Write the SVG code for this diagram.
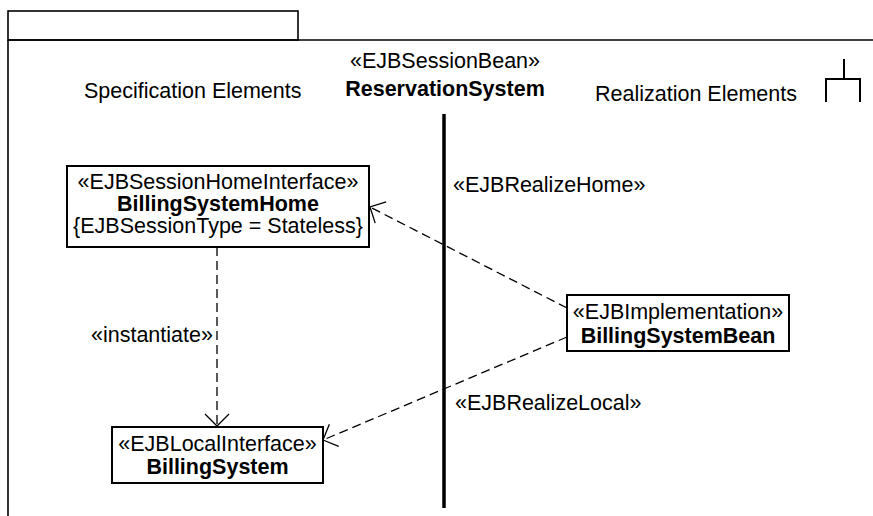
<svg xmlns="http://www.w3.org/2000/svg" width="873" height="516" viewBox="0 0 873 516">
  <defs>
    <style>
      .txt { font-family: "Liberation Sans", Arial, sans-serif; font-size: 21.5px; fill: #000; }
      .b { font-weight: bold; }
      .mid { text-anchor: middle; }
      .box { fill: #fff; stroke: #000; stroke-width: 2; }
      .frame { fill: none; stroke: #000; stroke-width: 1.6; }
      .dep { fill: none; stroke: #000; stroke-width: 1.3; stroke-dasharray: 9 5; }
      .head { fill: none; stroke: #000; stroke-width: 1.3; }
    </style>
    <marker id="open" viewBox="0 0 20 30" refX="18" refY="15" markerWidth="20" markerHeight="30" markerUnits="userSpaceOnUse" orient="auto">
      <path class="head" d="M 6 3 L 18 15 L 6 27"/>
    </marker>
  </defs>

  <rect width="873" height="516" fill="#fff"/>

  <!-- package frame with tab -->
  <g id="frame">
    <rect class="frame" x="8" y="11" width="290" height="29"/>
    <path class="frame" d="M 8 40 H 873 M 8 40 V 516"/>
    <text class="txt mid" x="445" y="68">«EJBSessionBean»</text>
    <text class="txt mid b" x="445" y="96">ReservationSystem</text>
    <text class="txt" x="84" y="98">Specification Elements</text>
    <text class="txt" x="595" y="101">Realization Elements</text>
    <!-- subsystem fork icon -->
    <path fill="none" stroke="#000" stroke-width="2" d="M 844 59 V 79 M 826 102 V 79 H 860 V 102"/>
    <!-- divider between specification and realization -->
    <line x1="444" y1="114" x2="444" y2="508" stroke="#000" stroke-width="3.5"/>
  </g>

  <!-- dependencies -->
  <g id="connectors">
    <line class="dep" x1="567" y1="308" x2="370" y2="207" marker-end="url(#open)"/>
    <line class="dep" x1="567" y1="337" x2="323" y2="440" marker-end="url(#open)"/>
    <line class="dep" x1="217" y1="247" x2="217" y2="426" marker-end="url(#open)"/>
    <text class="txt" x="453" y="192">«EJBRealizeHome»</text>
    <text class="txt" x="455" y="410">«EJBRealizeLocal»</text>
    <text class="txt" x="91" y="342">«instantiate»</text>
  </g>

  <g id="BillingSystemHome">
    <rect class="box" x="67" y="166" width="302" height="81"/>
    <text class="txt mid" x="218" y="189">«EJBSessionHomeInterface»</text>
    <text class="txt mid b" x="218" y="211">BillingSystemHome</text>
    <text class="txt mid" x="218" y="233">{EJBSessionType = Stateless}</text>
  </g>

  <g id="BillingSystem">
    <rect class="box" x="112" y="427" width="211" height="56"/>
    <text class="txt mid" x="217.5" y="451">«EJBLocalInterface»</text>
    <text class="txt mid b" x="217.5" y="474">BillingSystem</text>
  </g>

  <g id="BillingSystemBean">
    <rect class="box" x="567" y="295" width="222" height="56"/>
    <text class="txt mid" x="678" y="319">«EJBImplementation»</text>
    <text class="txt mid b" x="678" y="343">BillingSystemBean</text>
  </g>
</svg>
